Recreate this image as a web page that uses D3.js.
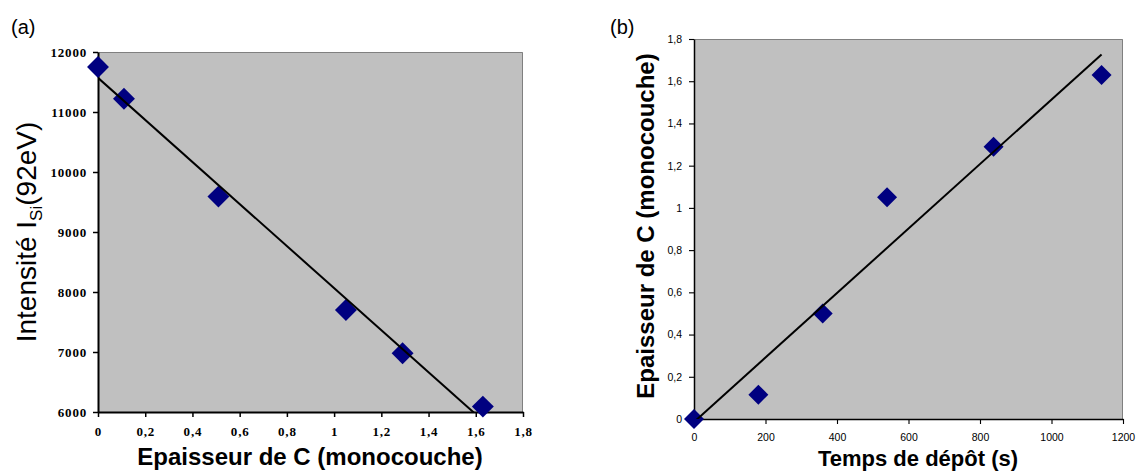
<!DOCTYPE html>
<html>
<head>
<meta charset="utf-8">
<script src="https://cdn.jsdelivr.net/npm/d3@7"></script>
<style>
body { margin: 0; background: #fff; }
svg { display: block; }
</style>
</head>
<body>
<svg id="chart" width="1136" height="472"></svg>
<script>
// (a) Si intensity vs C thickness
const thicknessA = [0, 0.11, 0.51, 1.05, 1.29, 1.63];
const intensityA = [11750, 11220, 9590, 7700, 6980, 6090];
const xTicksA = [0, 0.2, 0.4, 0.6, 0.8, 1, 1.2, 1.4, 1.6, 1.8];
const yTicksA = [6000, 7000, 8000, 9000, 10000, 11000, 12000];

// (b) C thickness vs deposition time
const timeB = [0, 180, 360, 540, 838, 1140];
const thicknessB = [0, 0.115, 0.5, 1.05, 1.29, 1.63];
const xTicksB = [0, 200, 400, 600, 800, 1000, 1200];
const yTicksB = [0, 0.2, 0.4, 0.6, 0.8, 1, 1.2, 1.4, 1.6, 1.8];

const svg = d3.select('#chart');
const frFmt = d => String(d).replace('.', ',');

// least squares line, like the Excel trendline
const fit = (xs, ys) => {
	const mx = d3.mean(xs), my = d3.mean(ys);
	const sxy = d3.sum(xs, (x, i) => (x - mx) * (ys[i] - my));
	const sxx = d3.sum(xs, x => (x - mx) * (x - mx));
	const slope = sxy / sxx;
	return { slope: slope, intercept: my - slope * mx };
};

const drawPanel = cfg => {
	const x = d3.scaleLinear().domain(cfg.xDomain).range([cfg.left, cfg.right]);
	const y = d3.scaleLinear().domain(cfg.yDomain).range([cfg.bottom, cfg.top]);
	const g = svg.append('g');

	g.append('defs')
		.append('clipPath')
		.attr('id', cfg.id + '-clip')
		.append('rect')
		.attr('x', cfg.left)
		.attr('y', cfg.top)
		.attr('width', cfg.right - cfg.left)
		.attr('height', cfg.bottom - cfg.top);

	g.append('rect')
		.attr('x', cfg.left)
		.attr('y', cfg.top)
		.attr('width', cfg.right - cfg.left)
		.attr('height', cfg.bottom - cfg.top)
		.attr('fill', '#c0c0c0');

	// grey frame on top and right
	g.append('path')
		.attr('d', 'M' + cfg.left + ',' + (cfg.top + 0.5) + 'H' + (cfg.right - 0.5) + 'V' + cfg.bottom)
		.attr('fill', 'none')
		.attr('stroke', '#808080')
		.attr('stroke-width', 1);

	const xAxis = d3.axisBottom(x)
		.tickValues(cfg.xTicks)
		.tickFormat(frFmt)
		.tickSizeInner(5)
		.tickSizeOuter(0)
		.tickPadding(cfg.xPad);
	const yAxis = d3.axisLeft(y)
		.tickValues(cfg.yTicks)
		.tickFormat(frFmt)
		.tickSizeInner(5)
		.tickSizeOuter(0)
		.tickPadding(cfg.yPad);

	const xg = g.append('g')
		.attr('transform', 'translate(0,' + cfg.bottom + ')')
		.call(xAxis);
	const yg = g.append('g')
		.attr('transform', 'translate(' + cfg.left + ',0)')
		.call(yAxis);

	[xg, yg].forEach(ax => {
		ax.select('.domain').attr('stroke', '#000').attr('stroke-width', cfg.axisWidth);
		ax.selectAll('.tick line').attr('stroke', '#000').attr('stroke-width', cfg.axisWidth * 0.75);
		ax.selectAll('.tick text')
			.attr('fill', '#000')
			.style('font-family', cfg.tickFont)
			.style('font-size', cfg.tickSize + 'px')
			.style('font-weight', cfg.tickWeight)
			.style('letter-spacing', cfg.tickSpacing + 'px');
	});

	// data markers: navy diamonds
	const diamond = d3.symbol().type(d3.symbolSquare).size(cfg.markerSize);
	g.append('g')
		.selectAll('path')
		.data(cfg.xs.map((v, i) => [v, cfg.ys[i]]))
		.enter()
		.append('path')
		.attr('d', diamond)
		.attr('transform', d => 'translate(' + x(d[0]) + ',' + y(d[1]) + ') rotate(45)')
		.attr('fill', '#000080');

	// trend line over the data range
	const t = fit(cfg.xs, cfg.ys);
	const xr = d3.extent(cfg.xs);
	g.append('path')
		.datum(xr.map(v => [v, t.intercept + t.slope * v]))
		.attr('d', d3.line().x(d => x(d[0])).y(d => y(d[1])))
		.attr('clip-path', 'url(#' + cfg.id + '-clip)')
		.attr('fill', 'none')
		.attr('stroke', '#000')
		.attr('stroke-width', 2);

	// panel tag
	g.append('text')
		.attr('x', cfg.tagX)
		.attr('y', 34)
		.style('font-family', 'Liberation Sans, Arial, sans-serif')
		.style('font-size', '20px')
		.text(cfg.tag);

	return { x, y, g };
};

const pa = drawPanel({
	id: 'a', tag: '(a)', tagX: 11,
	left: 98, right: 523, top: 52, bottom: 412,
	xDomain: [0, 1.8], yDomain: [6000, 12000],
	xTicks: xTicksA, yTicks: yTicksA,
	xs: thicknessA, ys: intensityA,
	xPad: 10, yPad: 6, axisWidth: 2,
	tickFont: 'Liberation Serif, Times New Roman, serif', tickSize: 13, tickWeight: 'bold', tickSpacing: 0.8,
	markerSize: 240
});

const pb = drawPanel({
	id: 'b', tag: '(b)', tagX: 610,
	left: 694, right: 1123, top: 39, bottom: 419,
	xDomain: [0, 1200], yDomain: [0, 1.8],
	xTicks: xTicksB, yTicks: yTicksB,
	xs: timeB, ys: thicknessB,
	xPad: 10, yPad: 7, axisWidth: 1.5,
	tickFont: 'Liberation Sans, Arial, sans-serif', tickSize: 10.5, tickWeight: 'normal', tickSpacing: 0,
	markerSize: 200
});

// axis titles
const sans = 'Liberation Sans, Arial, sans-serif';

const yTitleA = pa.g.append('text')
	.attr('transform', 'translate(36,232) rotate(-90)')
	.attr('text-anchor', 'middle')
	.style('font-family', sans)
	.style('font-size', '28px');
yTitleA.append('tspan').text('Intensité I');
yTitleA.append('tspan').attr('dy', 6).style('font-size', '17px').text('Si');
yTitleA.append('tspan').attr('dy', -6).text('(92eV)');

pa.g.append('text')
	.attr('x', 310)
	.attr('y', 465)
	.attr('text-anchor', 'middle')
	.style('font-family', sans)
	.style('font-size', '24px')
	.style('font-weight', 'bold')
	.text('Epaisseur de C (monocouche)');

pb.g.append('text')
	.attr('transform', 'translate(654,226) rotate(-90)')
	.attr('text-anchor', 'middle')
	.style('font-family', sans)
	.style('font-size', '24px')
	.style('font-weight', 'bold')
	.text('Epaisseur de C (monocouche)');

pb.g.append('text')
	.attr('x', 918)
	.attr('y', 466)
	.attr('text-anchor', 'middle')
	.style('font-family', sans)
	.style('font-size', '22px')
	.style('font-weight', 'bold')
	.text('Temps de dépôt (s)');
</script>
</body>
</html>
